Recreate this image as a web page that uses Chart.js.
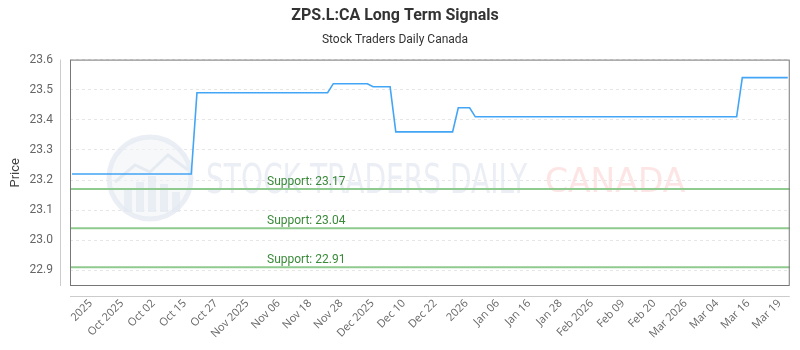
<!DOCTYPE html>
<html><head><meta charset="utf-8">
<script src="https://cdn.jsdelivr.net/npm/chart.js@4.4.1/dist/chart.umd.min.js"></script>
<style>html,body{margin:0;padding:0;background:#fff}#wrap{width:800px;height:350px}</style>
</head><body><div id="wrap"><canvas id="c" width="800" height="350"></canvas></div>
<script>
const chartTitle = 'ZPS.L:CA Long Term Signals';
const chartSubtitle = 'Stock Traders Daily Canada';
const yAxisTitle = 'Price';
const priceValues = [
  23.22,23.22,23.22,23.22,23.22,23.22,23.22,23.22,23.22,23.22,23.22,
  23.22,23.22,23.22,23.22,23.22,23.22,23.22,23.22,23.22,23.22,23.22,
  23.49,23.49,23.49,23.49,23.49,23.49,23.49,23.49,23.49,23.49,23.49,23.49,
  23.49,23.49,23.49,23.49,23.49,23.49,23.49,23.49,23.49,23.49,23.49,23.49,
  23.52,23.52,23.52,23.52,23.52,23.52,23.52,
  23.51,23.51,23.51,23.51,
  23.36,23.36,23.36,23.36,23.36,23.36,23.36,23.36,23.36,23.36,23.36,
  23.44,23.44,23.44,
  23.41,23.41,23.41,23.41,23.41,23.41,23.41,23.41,23.41,23.41,23.41,23.41,
  23.41,23.41,23.41,23.41,23.41,23.41,23.41,23.41,23.41,23.41,23.41,23.41,
  23.41,23.41,23.41,23.41,23.41,23.41,23.41,23.41,23.41,23.41,23.41,23.41,
  23.41,23.41,23.41,23.41,23.41,23.41,23.41,23.41,23.41,23.41,23.41,
  23.54,23.54,23.54,23.54,23.54,23.54,23.54,23.54,23.54
];
const tickLabels = ['2025','Oct 2025','Oct 02','Oct 15','Oct 27','Nov 2025','Nov 06','Nov 18','Nov 28','Dec 2025','Dec 10','Dec 22','2026','Jan 06','Jan 16','Jan 28','Feb 2026','Feb 09','Feb 20','Mar 2026','Mar 04','Mar 16','Mar 19'];
const firstTickIndex = 3.3;
const lastTickIndex = 124.55;
const yTicks = [22.9, 23.0, 23.1, 23.2, 23.3, 23.4, 23.5, 23.6];
const yMin = 22.848, yMax = 23.6;
const supportLevels = [23.17, 23.04, 22.91];

const tickPositions = tickLabels.map((_, k) => firstTickIndex + k * (lastTickIndex - firstTickIndex) / (tickLabels.length - 1));

const decor = {
  id: 'decor',
  beforeDatasetsDraw(chart) {
    const c = chart.ctx;
    c.save();
    c.beginPath();
    c.arc(150, 178, 41, 0, Math.PI * 2);
    c.fillStyle = 'rgba(240,243,247,0.6)';
    c.fill();
    c.lineWidth = 5;
    c.strokeStyle = 'rgba(228,233,241,0.75)';
    c.stroke();
    c.fillStyle = 'rgba(228,233,241,0.75)';
    [[124,190,8,22],[136,182,8,30],[148,176,8,36],[160,184,8,28],[172,192,8,20]].forEach(r => c.fillRect(r[0], r[1], r[2], r[3]));
    c.beginPath();
    c.moveTo(115, 182); c.lineTo(135, 165); c.lineTo(150, 172); c.lineTo(168, 155); c.lineTo(188, 170);
    c.lineWidth = 3; c.strokeStyle = 'rgba(228,233,241,0.85)'; c.stroke();
    c.textBaseline = 'alphabetic';
    c.textAlign = 'left';
    c.fillStyle = 'rgba(226,231,239,0.7)';
    c.font = '41px "DejaVu Sans Condensed", "Liberation Sans Narrow", sans-serif';
    c.fillText('STOCK TRADERS DAILY', 206, 193, 321);
    c.fillStyle = 'rgba(251,212,212,0.6)';
    c.font = '33px "DejaVu Sans", sans-serif';
    c.fillText('CANADA', 545, 192, 152);
    c.restore();
  },
  afterDatasetsDraw(chart) {
    const c = chart.ctx, a = chart.chartArea, y = chart.scales.y;
    c.save();
    supportLevels.forEach(v => {
      const py = y.getPixelForValue(v);
      c.beginPath();
      c.moveTo(a.left, py); c.lineTo(a.right, py);
      c.lineWidth = 2; c.strokeStyle = '#8fca8f'; c.stroke();
      c.fillStyle = '#3a8a3a';
      c.font = '12px Roboto, sans-serif';
      c.textAlign = 'left'; c.textBaseline = 'alphabetic';
      c.fillText('Support: ' + v.toFixed(2), 267, py - 4);
    });
    c.restore();
  },
  afterDraw(chart) {
    const c = chart.ctx, a = chart.chartArea;
    c.save();
    c.lineWidth = 1;
    c.strokeStyle = '#cccccc';
    c.beginPath();
    c.moveTo(a.left - 9.5, a.top); c.lineTo(a.left - 9.5, a.bottom);
    c.moveTo(a.left, a.bottom + 10.5); c.lineTo(a.right, a.bottom + 10.5);
    c.stroke();
    c.strokeStyle = '#777777';
    c.strokeRect(a.left + 0.5, a.top + 0.5, a.right - a.left - 1, a.bottom - a.top - 1);
    c.restore();
  }
};

new Chart(document.getElementById('c'), {
  type: 'line',
  data: {
    datasets: [{
      data: priceValues.map((v, i) => ({ x: i, y: v })),
      borderColor: '#42a5f5',
      borderWidth: 1.6,
      pointRadius: 0,
      tension: 0,
      fill: false
    }]
  },
  options: {
    responsive: false,
    animation: false,
    devicePixelRatio: 1,
    layout: { padding: { left: 0, right: 10, top: 0, bottom: 0 } },
    plugins: {
      legend: { display: false },
      tooltip: { enabled: false },
      title: { display: true, text: chartTitle, color: '#333', font: { family: 'Roboto', size: 16, weight: 'bold' }, padding: { top: 6, bottom: 4 } },
      subtitle: { display: true, text: chartSubtitle, color: '#333', font: { family: 'Roboto', size: 12 }, padding: { top: 4, bottom: 12 } }
    },
    scales: {
      x: {
        type: 'linear',
        min: -0.35,
        max: 126.35,
        grid: { display: false, drawTicks: false },
        border: { display: false },
        afterBuildTicks: s => { s.ticks = tickPositions.map(v => ({ value: v })); },
        afterFit: s => { s.height = 64; },
        ticks: {
          autoSkip: false, maxRotation: 45, minRotation: 45, padding: 11,
          color: '#666', font: { family: 'Open Sans', size: 11 },
          callback: (v, i) => tickLabels[i]
        }
      },
      y: {
        min: yMin,
        max: yMax,
        afterBuildTicks: s => { s.ticks = yTicks.map(v => ({ value: v })); },
        afterFit: s => { s.width = 70; },
        grid: { color: '#e6e6e6', drawTicks: false, lineWidth: 1 },
        border: { display: false, dash: [3, 3] },
        ticks: { padding: 17, color: '#666', font: { family: 'Roboto', size: 12 }, callback: v => v.toFixed(1) },
        title: { display: true, text: yAxisTitle, color: '#444', font: { family: 'Roboto', size: 13 }, padding: { top: 8, bottom: 0 } }
      }
    }
  },
  plugins: [decor]
});
</script>
</body></html>
